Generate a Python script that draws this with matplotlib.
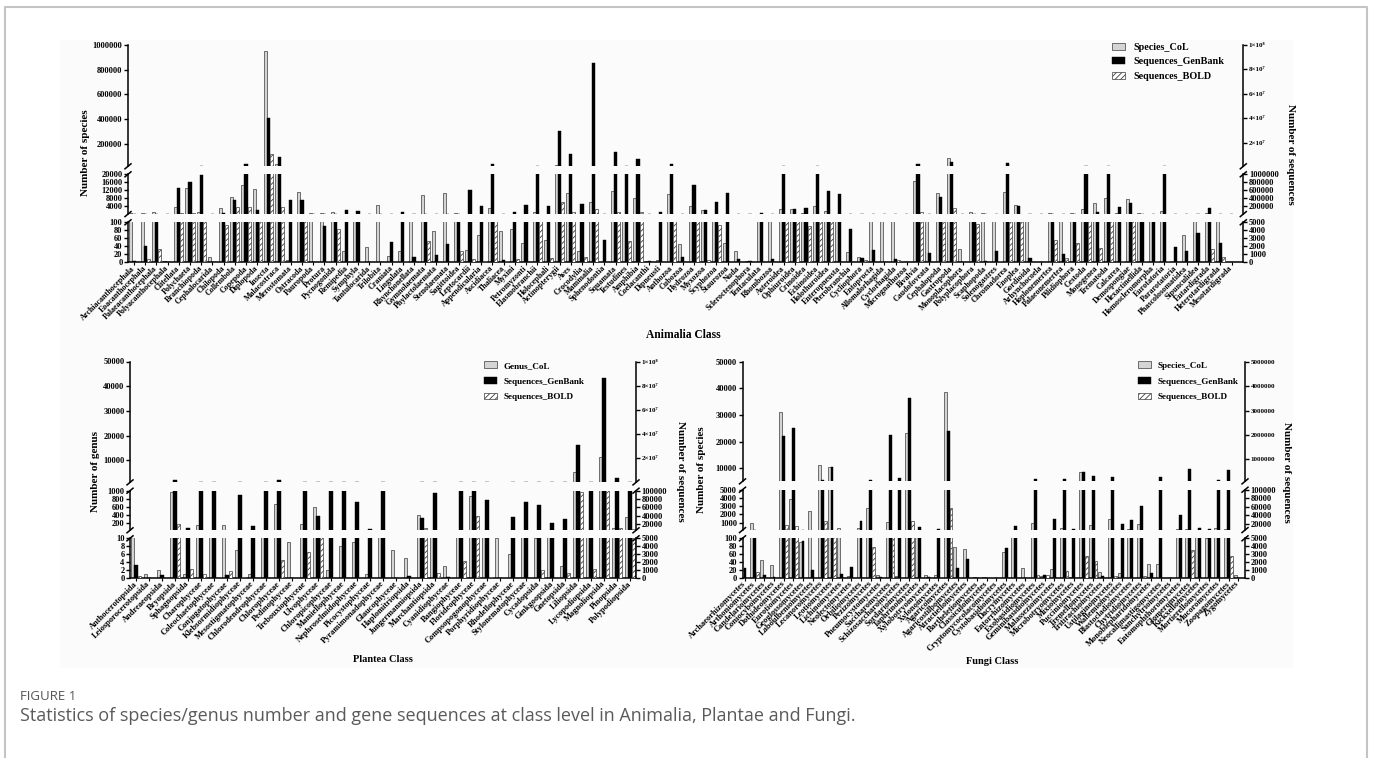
import matplotlib.pyplot as plt
import numpy as np
from matplotlib.lines import Line2D
from matplotlib.patches import Rectangle

plt.rcParams['font.family'] = ['Liberation Serif', 'DejaVu Serif']
plt.rcParams['font.weight'] = 'bold'
plt.rcParams['hatch.linewidth'] = 0.6
plt.rcParams['hatch.color'] = '#3c3c3c'

W, H = 1375, 758

# ---------------- data ----------------
animal_classes = [
    "Archiacanthocephala", "Eoacanthocephala", "Palaeacanthocephala", "Polyacanthocephala", "Clitellata",
    "Polychaeta", "Branchiopoda", "Cephalocarida", "Chilopoda", "Collembola",
    "Copepoda", "Diplopoda", "Insecta", "Malacostraca", "Merostomata",
    "Ostracoda", "Pauropoda", "Protura", "Pycnogonida", "Remipedia",
    "Symphyla", "Tantulocarida", "Trilobita", "Craniata", "Lingulata",
    "Rhynchonellata", "Gymnolaemata", "Phylactolaemata", "Stenolaemata", "Sagittoidea",
    "Leptocardii", "Appendicularia", "Ascidiacea", "Thaliacea", "Myxini",
    "Petromyzonti", "Elasmobranchii", "Holocephali", "Actinopterygii", "Aves",
    "Crocodylia", "Mammalia", "Sphenodontia", "Squamata", "Testudines",
    "Amphibia", "Coelacanthi", "Dipneusti", "Anthozoa", "Cubozoa",
    "Hydrozoa", "Myxozoa", "Scyphozoa", "Staurozoa", "Nuda",
    "Scleroctenophora", "Tentaculata", "Rhombozoa", "Asteroidea", "Ophiuroidea",
    "Crinoidea", "Echinoidea", "Holothuroidea", "Enteropneusta", "Pterobranchia",
    "Cycliophora", "Entoprocta", "Allomalorhagida", "Cyclorhagida", "Micrognathozoa",
    "Bivalvia", "Caudofoveata", "Cephalopoda", "Gastropoda", "Monoplacophora",
    "Polyplacophora", "Scaphopoda", "Solenogastres", "Chromadorea", "Enoplea",
    "Gordioida", "Arhynchocoela", "Hoplonemertea", "Palaeonemertea", "Pilidiophora",
    "Cestoda", "Monogenea", "Trematoda", "Calcarea", "Demospongiae",
    "Hexactinellida", "Homoscleromorpha", "Eurotatoria", "Pararotatoria", "Phascolosomatidea",
    "Sipunculidea", "Eutardigrada", "Heterotardigrada", "Mesotardigrada"]
animal_species = [
    500, 500, 1300, 4, 3700, 13300, 1000, 12, 3000, 8700,
    14700, 12800, 952000, 35000, 5, 11000, 900, 800, 1300, 28,
    200, 38, 4500, 16, 28, 400, 9800, 78, 10800, 700,
    30, 68, 3000, 78, 83, 47, 1300, 56, 33000, 10800,
    29, 6200, 1, 11500, 350, 8000, 2, 6, 10200, 46,
    4000, 2200, 200, 48, 27, 3, 180, 130, 2500, 2700,
    650, 4200, 1800, 300, 25, 13, 200, 150, 200, 1,
    16700, 150, 10800, 89500, 32, 1000, 600, 300, 11000, 4700,
    350, 1, 500, 150, 500, 2500, 5500, 8000, 800, 7800,
    600, 150, 1800, 0, 68, 200, 800, 400, 1]
animal_genbank = [
    200, 2000, 8000, 0, 650000, 800000, 990000, 30, 40000, 360000,
    2.6e6, 100000, 4.05e7, 8.7e6, 360000, 360000, 80, 4500, 6000, 120000,
    90000, 0, 0, 2500, 60000, 625, 8000, 900, 2250, 6000,
    600000, 200000, 2.6e6, 330, 50000, 225000, 1.5e6, 220000, 2.97e7, 1.08e7,
    258000, 8.49e7, 2800, 1.27e7, 1.5e6, 6.8e6, 100, 50000, 2.6e6, 700,
    733000, 100000, 310000, 525000, 375, 100, 40000, 375, 1.5e6, 130000,
    150000, 1.5e6, 580000, 517000, 4170, 580, 1540, 0, 417, 0,
    2.6e6, 1125, 441000, 4.1e6, 0, 8000, 200, 1400, 3.5e6, 215000,
    580, 0, 8000, 1040, 8000, 1.5e6, 50000, 1.5e6, 190000, 290000,
    10000, 8000, 1.5e6, 1960, 1400, 3600, 170000, 2350, 0]
animal_bold = [
    0, 350, 1650, 0, 40000, 40000, 15000, 0, 4600, 175000,
    175000, 10000, 1.08e7, 190000, 0, 5500, 0, 150, 4100, 0,
    100, 0, 0, 0, 100, 0, 2650, 0, 80, 1400,
    400, 100, 15000, 150, 400, 0, 20000, 580, 300000, 65000,
    700, 140000, 0, 50000, 2670, 50000, 0, 0, 10000, 0,
    12000, 300, 4700, 0, 0, 0, 0, 0, 12000, 12000,
    4500, 12000, 8000, 0, 0, 300, 0, 0, 300, 0,
    50000, 0, 6000, 150000, 0, 4800, 0, 100, 8000, 6000,
    0, 0, 2800, 580, 2400, 6000, 1750, 8000, 200, 8000,
    120, 200, 100, 0, 0, 0, 1650, 620, 0]

plant_classes = [
    "Anthocerotopsida", "Leiosporocerotopsida", "Andreaeopsida", "Bryopsida", "Sphagnopsida",
    "Charophyceae", "Coleochaetophyceae", "Conjugatophyceae", "Klebsormidiophyceae", "Mesostigmatophyceae",
    "Chlorodendrophyceae", "Chlorophyceae", "Pedinophyceae", "Trebouxiophyceae", "Ulvophyceae",
    "Chloropicophyceae", "Mamiellophyceae", "Nephroselmidophyceae", "Picocystophyceae", "Pyramimonadophyceae",
    "Glaucophyceae", "Haplomitriopsida", "Jungermanniopsida", "Marchantiopsida", "Cyanidiophyceae",
    "Bangiophyceae", "Florideophyceae", "Compsopogonophyceae", "Porphyridiophyceae", "Rhodellophyceae",
    "Stylonematophyceae", "Cycadopsida", "Ginkgoopsida", "Gnetopsida", "Liliopsida",
    "Lycopodiopsida", "Magnoliopsida", "Pinopsida", "Polypodiopsida"]
plant_genus = [
    14, 1, 2, 960, 1, 140, 12, 150, 7, 1,
    12, 680, 9, 180, 600, 2, 8, 9, 1, 12,
    7, 5, 390, 12, 3, 12, 880, 12, 10, 6,
    12, 10, 11, 3, 5400, 12, 11200, 75, 350]
plant_genbank = [
    1610, 0, 340, 1.8e6, 9600, 6e5, 6e5, 300, 89600, 16000,
    6e5, 1.8e6, 0, 6e5, 40000, 6e5, 6e5, 73600, 9000, 6e5,
    0, 210, 33600, 95000, 130, 6e5, 6e5, 77600, 0, 36000,
    72000, 65600, 23200, 31000, 3.1e7, 6e5, 8.6e7, 3.5e6, 6e5]
plant_bold = [
    210, 0, 0, 20000, 1100, 470, 0, 890, 100, 0,
    0, 2250, 0, 3300, 6000, 0, 0, 0, 0, 0,
    0, 0, 9600, 640, 0, 2100, 39000, 130, 0, 0,
    0, 1000, 0, 600, 97600, 1100, 6e5, 9600, 9000]

fungi_classes = [
    "Archaeorhizomycetes", "Arthoniomycetes", "Candelariomycetes", "Coniocybomycetes", "Dothideomycetes",
    "Eurotiomycetes", "Geoglossomycetes", "Laboulbeniomycetes", "Lecanoromycetes", "Leotiomycetes",
    "Lichinomycetes", "Neolectomycetes", "Orbiliomycetes", "Pezizomycetes", "Pneumocystomycetes",
    "Saccharomycetes", "Schizosaccharomycetes", "Sordariomycetes", "Taphrinomycetes", "Xylobotryomycetes",
    "Xylonomycetes", "Agaricomycetes", "Agaricostilbomycetes", "Atractiellomycetes", "Bartheletiomycetes",
    "Classiculomycetes", "Cryptomycocolacomycetes", "Cystobasidiomycetes", "Dacrymycetes", "Entorrhizomycetes",
    "Exobasidiomycetes", "Geminibasidiomycetes", "Malasseziomycetes", "Microbotryomycetes", "Mixiomycetes",
    "Pucciniomycetes", "Tremellomycetes", "Tritirachiomycetes", "Ustilaginomycetes", "Wallemiomycetes",
    "Blastocladiomycetes", "Chytridiomycetes", "Monoblepharidomycetes", "Neocallimastigomycetes", "Sanchytriomycetes",
    "Entomophthoromycetes", "Glomeromycetes", "Kickxellomycetes", "Mortierellomycetes", "Mucoromycetes",
    "Zoopagomycetes", "Zygomycetes"]
fungi_species = [
    0, 1000, 46, 32, 31000, 3830, 90, 2400, 11250, 10250,
    300, 4, 400, 2740, 6, 1120, 4, 23100, 150, 8,
    6, 38500, 78, 74, 3, 3, 0, 64, 150, 24,
    1000, 5, 22, 310, 1, 8500, 720, 15, 1400, 11,
    200, 800, 36, 34, 0, 200, 200, 150, 100, 310,
    200, 6]
fungi_genbank = [
    1200, 6000, 350, 150, 1.95e6, 2.27e6, 4700, 950, 1.6e5, 670000,
    500, 1300, 27400, 1.6e5, 100, 2.0e6, 245000, 3.53e6, 11800, 100,
    8100, 2.16e6, 1200, 2350, 0, 0, 0, 3800, 13700, 0,
    1.8e5, 300, 31900, 1.8e5, 8100, 466000, 330000, 200, 288000, 19200,
    29500, 61000, 550, 288000, 0, 41000, 600000, 9700, 8000, 1.7e5,
    560000, 0]
fungi_bold = [
    0, 750, 0, 0, 16000, 13700, 0, 0, 25500, 6000,
    0, 0, 0, 3850, 0, 6000, 0, 25500, 0, 0,
    0, 57000, 0, 0, 0, 0, 0, 0, 0, 0,
    300, 300, 0, 900, 0, 2750, 2160, 0, 200, 0,
    0, 200, 0, 0, 0, 0, 3500, 0, 0, 0,
    2800, 0]

e8_labels = ['2×10⁷', '4×10⁷', '6×10⁷', '8×10⁷', '1×10⁸']

fig = plt.figure(figsize=(W / 100, H / 100), dpi=100)


def add_box(x0, y0, x1, y1):
    return fig.add_axes([x0 / W, 1 - y1 / H, (x1 - x0) / W, (y1 - y0) / H])


def slash(x, y):
    fig.add_artist(Line2D([(x - 3) / W, (x + 3) / W], [1 - (y + 2.5) / H, 1 - (y - 2.5) / H],
                          color='black', lw=1.1))


def draw_panel(p):
    n = len(p['names'])
    xs = np.arange(n)
    bw = p['bw']
    lo = (p['x0'] - p['c0']) / p['step']
    hi = (p['x1'] - p['c0']) / p['step']
    handles = None
    for k, (yt, yb) in enumerate(p['segs']):
        ax = add_box(p['x0'], yt, p['x1'], yb)
        ax.patch.set_visible(False)
        ax2 = ax.twinx()
        hg = ax.bar(xs - bw, p['grey'], bw, color='#d4d4d4', edgecolor='#3c3c3c', linewidth=0.5)
        hb = ax2.bar(xs, p['black'], bw, color='black', edgecolor='black', linewidth=0.3)
        hh = ax2.bar(xs + bw, p['bold'], bw, color='white', edgecolor='#3c3c3c',
                     hatch='//////', linewidth=0.5)
        if k == 0:
            handles = [hg, hb, hh]
        ax.set_xlim(lo, hi)
        ax.set_ylim(*p['llims'][k])
        ax2.set_ylim(*p['rlims'][k])
        lt = p['lticks'][k]
        rt = p['rticks'][k]
        ax.set_yticks(lt)
        ax.set_yticklabels([str(int(t)) for t in lt])
        ax2.set_yticks(rt)
        if k == 0 and p.get('rtop_labels'):
            ax2.set_yticklabels(p['rtop_labels'], fontsize=5)
        else:
            ax2.set_yticklabels([str(int(t)) for t in rt])
        for a in (ax, ax2):
            a.spines['top'].set_visible(False)
            for s in a.spines.values():
                s.set_linewidth(1.1)
        ax.spines['right'].set_visible(False)
        ax2.spines['left'].set_visible(False)
        ax2.spines['bottom'].set_visible(False)
        ax.tick_params(axis='y', length=3, width=1, labelsize=6, pad=1)
        ax2.tick_params(axis='y', length=3, width=1, labelsize=6 if k else 5, pad=1)
        if k < 2:
            ax.spines['bottom'].set_visible(False)
            ax.tick_params(axis='x', bottom=False, labelbottom=False)
        else:
            ax.set_xticks(xs)
            ax.set_xticklabels(p['names'], rotation=45, ha='right', va='center',
                               rotation_mode='anchor', fontsize=p['fs'])
            ax.tick_params(axis='x', length=2.5, width=0.8, pad=1)
    # axis break marks
    for k in range(2):
        yb = p['segs'][k][1]
        yt = p['segs'][k + 1][0]
        for x in (p['x0'], p['x1']):
            slash(x, yb)
            slash(x, yt)
    fs = p['lfs']
    fig.legend(handles, p['legend'], loc='upper left',
               bbox_to_anchor=(p['leg'][0] / W, 1 - p['leg'][1] / H),
               frameon=False, fontsize=fs, handlelength=p['hl'], handleheight=0.7,
               handletextpad=p['htp'], labelspacing=p['ls'], borderaxespad=0, borderpad=0)
    fig.text(p['yl'][0] / W, 1 - p['yl'][1] / H, p['ylabel'], rotation=90,
             ha='center', va='center', fontsize=8)
    fig.text(p['yr'][0] / W, 1 - p['yr'][1] / H, 'Number of sequences', rotation=270,
             ha='center', va='center', fontsize=8)
    fig.text(p['xl'][0] / W, 1 - p['xl'][1] / H, p['xlabel'],
             ha='center', va='center', fontsize=p['xfs'])


# page frame and figure background
fig.add_artist(Rectangle((60 / W, 1 - 668 / H), (1293 - 60) / W, (668 - 40) / H,
                         transform=fig.transFigure, facecolor='#fbfbfb', edgecolor='none', zorder=-10))
fig.add_artist(Line2D([5 / W, 5 / W, 1367 / W, 1367 / W], [0, 1 - 7 / H, 1 - 7 / H, 0],
                      color='#c4c4c4', lw=1.5))

draw_panel(dict(
    names=animal_classes, grey=animal_species, black=animal_genbank, bold=animal_bold,
    x0=128, x1=1243.3, c0=134, step=11.2, bw=0.27, fs=5.8,
    segs=[(44.7, 166.3), (174.3, 214.1), (222.3, 262.3)],
    llims=[(20000, 1000000), (100, 20000), (0, 100)],
    rlims=[(1e6, 1e8), (5000, 1000000), (0, 5000)],
    lticks=[range(200000, 1000001, 200000), range(4000, 20001, 4000), range(0, 101, 20)],
    rticks=[[2e7, 4e7, 6e7, 8e7, 1e8], range(200000, 1000001, 200000), range(0, 5001, 1000)],
    rtop_labels=e8_labels,
    legend=['Species_CoL', 'Sequences_GenBank', 'Sequences_BOLD'], leg=(1112, 42.5),
    lfs=7.3, hl=1.3, htp=0.8, ls=0.55,
    ylabel='Number of species', yl=(85, 153), yr=(1290, 154),
    xlabel='Animalia Class', xl=(683, 335), xfs=8.3))

draw_panel(dict(
    names=plant_classes, grey=plant_genus, black=plant_genbank, bold=plant_bold,
    x0=130, x1=636, c0=136, step=13.0, bw=0.28, fs=6,
    segs=[(361.5, 482.4), (490.7, 530.3), (538.3, 577.7)],
    llims=[(1000, 50000), (10, 1000), (0, 10)],
    rlims=[(1e5, 1e8), (5000, 100000), (0, 5000)],
    lticks=[range(10000, 50001, 10000), range(200, 1001, 200), range(0, 11, 2)],
    rticks=[[2e7, 4e7, 6e7, 8e7, 1e8], range(20000, 100001, 20000), range(0, 5001, 1000)],
    rtop_labels=e8_labels,
    legend=['Genus_CoL', 'Sequences_GenBank', 'Sequences_BOLD'], leg=(484, 361.5),
    lfs=6.6, hl=1.45, htp=0.7, ls=0.8,
    ylabel='Number of genus', yl=(95, 471), yr=(680, 471),
    xlabel='Plantea Class', xl=(383, 660), xfs=7.5))

draw_panel(dict(
    names=fungi_classes, grey=fungi_species, black=fungi_genbank, bold=fungi_bold,
    x0=742.5, x1=1245, c0=745, step=9.67, bw=0.3, fs=6,
    segs=[(361.8, 481.4), (489.7, 530.1), (538.3, 577.7)],
    llims=[(5000, 50000), (100, 5000), (0, 100)],
    rlims=[(1e5, 5e6), (5000, 100000), (0, 5000)],
    lticks=[range(10000, 50001, 10000), range(1000, 5001, 1000), range(0, 101, 20)],
    rticks=[range(1000000, 5000001, 1000000), range(20000, 100001, 20000), range(0, 5001, 1000)],
    legend=['Species_CoL', 'Sequences_GenBank', 'Sequences_BOLD'], leg=(1138, 361.5),
    lfs=6.6, hl=1.45, htp=0.7, ls=0.8,
    ylabel='Number of species', yl=(702, 470), yr=(1287, 472),
    xlabel='Fungi Class', xl=(992, 662), xfs=7.5))

fig.text(20 / W, 1 - 697 / H, 'FIGURE 1', fontsize=9.5, family='Open Sans',
         weight='normal', color='#555555', va='center')
fig.text(20 / W, 1 - 716 / H,
         'Statistics of species/genus number and gene sequences at class level in Animalia, Plantae and Fungi.',
         fontsize=13.0, family='Open Sans', weight='normal', color='#5a5a5a', va='center')

fig.savefig('out.png', dpi=100)
